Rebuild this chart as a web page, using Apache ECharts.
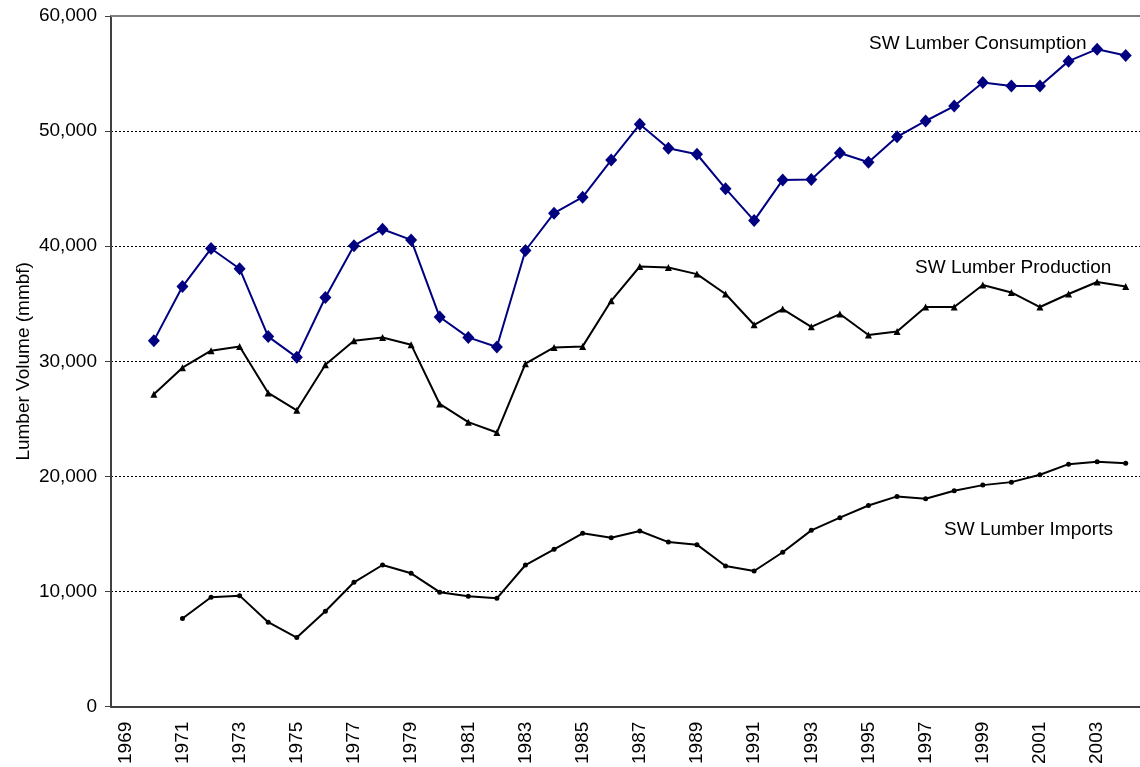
<!DOCTYPE html>
<html>
<head>
<meta charset="utf-8">
<script src="https://cdn.jsdelivr.net/npm/echarts@6/dist/echarts.min.js"></script>
<style>
  html, body { margin: 0; padding: 0; background: #fff; }
  #main { width: 1140px; height: 767px; }
</style>
</head>
<body>
<div id="main"></div>
<script>
const years = ['1969', '1970', '1971', '1972', '1973', '1974', '1975', '1976', '1977', '1978',
  '1979', '1980', '1981', '1982', '1983', '1984', '1985', '1986', '1987', '1988',
  '1989', '1990', '1991', '1992', '1993', '1994', '1995', '1996', '1997', '1998',
  '1999', '2000', '2001', '2002', '2003', '2004'];

const consumption = [null, 31800, 36500, 39800, 38050, 32150, 30350, 35550, 40050, 41480,
  40550, 33850, 32080, 31250, 39630, 42870, 44260, 47490, 50590, 48510,
  47990, 45000, 42230, 45760, 45800, 48100, 47290, 49510, 50880, 52180,
  54230, 53910, 53910, 56080, 57120, 56570];

const production = [null, 27140, 29450, 30930, 31300, 27260, 25750, 29710, 31790, 32080,
  31450, 26300, 24720, 23820, 29800, 31210, 31300, 35260, 38240, 38150,
  37580, 35850, 33180, 34540, 33000, 34110, 32290, 32600, 34720, 34720,
  36630, 35990, 34720, 35850, 36890, 36510];

const imports = [null, null, 7660, 9510, 9650, 7340, 6010, 8290, 10810, 12310,
  11590, 9950, 9590, 9420, 12310, 13670, 15060, 14680, 15260, 14300,
  14080, 12220, 11790, 13420, 15320, 16420, 17480, 18270, 18070, 18760,
  19250, 19510, 20150, 21070, 21270, 21150];

const yTicks = [0, 10000, 20000, 30000, 40000, 50000, 60000];

const font = '"Liberation Sans", Arial, sans-serif';
const chart = echarts.init(document.getElementById('main'));

const option = {
  animation: false,
  textStyle: { fontFamily: font },
  grid: { left: 111, top: 16, width: 1033, height: 691, containLabel: false },
  xAxis: {
    type: 'category',
    data: years,
    boundaryGap: true,
    axisLine: { lineStyle: { color: '#404040', width: 2 } },
    axisTick: { interval: 0, length: 6, lineStyle: { color: '#404040', width: 1 } },
    axisLabel: { interval: 1, rotate: 90, margin: 15, fontSize: 19, color: '#000', fontFamily: font }
  },
  yAxis: {
    type: 'value',
    min: yTicks[0],
    max: yTicks[yTicks.length - 1],
    interval: 10000,
    name: 'Lumber Volume (mmbf)',
    nameLocation: 'middle',
    nameGap: 78,
    nameMoveOverlap: false,
    nameTextStyle: { fontSize: 19, color: '#000', fontFamily: font },
    axisLine: { show: true, lineStyle: { color: '#404040', width: 2 } },
    axisTick: { show: true, length: 6, lineStyle: { color: '#404040' } },
    axisLabel: {
      margin: 14, fontSize: 19, color: '#000', fontFamily: font,
      formatter: v => v.toLocaleString('en-US')
    },
    splitLine: {
      show: true,
      lineStyle: { color: '#000', type: [2, 2], width: 1 }
    }
  },
  series: [
    {
      name: 'SW Lumber Consumption',
      type: 'line',
      data: consumption,
      symbol: 'diamond',
      symbolSize: [12, 13],
      lineStyle: { color: '#000080', width: 2 },
      itemStyle: { color: '#000080' },
      markLine: {
        silent: true,
        symbol: 'none',
        label: { show: false },
        lineStyle: { color: '#808080', type: 'solid', width: 2 },
        data: [{ yAxis: yTicks[yTicks.length - 1] }]
      }
    },
    {
      name: 'SW Lumber Production',
      type: 'line',
      data: production,
      symbol: 'triangle',
      symbolSize: 7,
      lineStyle: { color: '#000', width: 2 },
      itemStyle: { color: '#000' }
    },
    {
      name: 'SW Lumber Imports',
      type: 'line',
      data: imports,
      symbol: 'circle',
      symbolSize: 5,
      lineStyle: { color: '#000', width: 2 },
      itemStyle: { color: '#000' }
    }
  ],
  graphic: [
    { type: 'text', left: 869, top: 34, style: { text: 'SW Lumber Consumption', font: '19px ' + font, fill: '#000' } },
    { type: 'text', left: 915, top: 258, style: { text: 'SW Lumber Production', font: '19px ' + font, fill: '#000' } },
    { type: 'text', left: 944, top: 520, style: { text: 'SW Lumber Imports', font: '19px ' + font, fill: '#000' } }
  ]
};

chart.setOption(option);
</script>
</body>
</html>
